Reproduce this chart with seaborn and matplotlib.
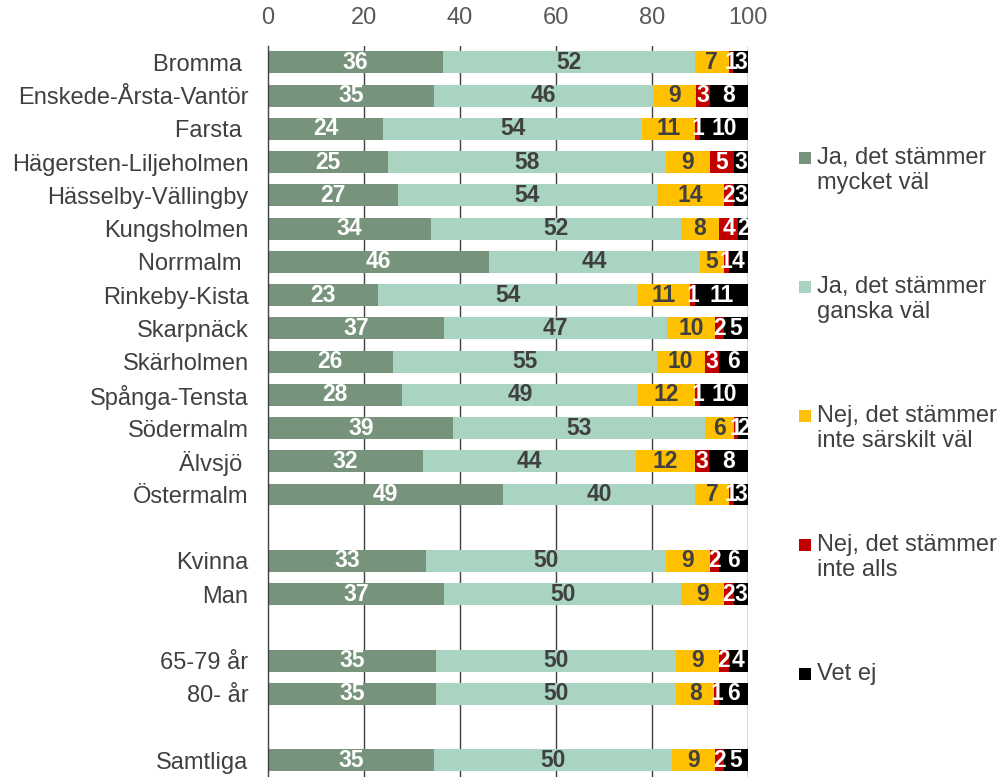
import numpy as np
import pandas as pd
import matplotlib
matplotlib.use("Agg")
import matplotlib.pyplot as plt
from matplotlib.patches import Rectangle
import seaborn as sns

# categories, grouped (a blank slot is left between groups)
areas = ["Bromma ", "Enskede-Årsta-Vantör", "Farsta ", "Hägersten-Liljeholmen",
         "Hässelby-Vällingby", "Kungsholmen", "Norrmalm ", "Rinkeby-Kista",
         "Skarpnäck", "Skärholmen", "Spånga-Tensta", "Södermalm", "Älvsjö ",
         "Östermalm"]
gender = ["Kvinna", "Man"]
age = ["65-79 år", "80- år"]
total = ["Samtliga"]

series = ["Ja, det stämmer\nmycket väl", "Ja, det stämmer\nganska väl",
          "Nej, det stämmer\ninte särskilt väl", "Nej, det stämmer\ninte alls",
          "Vet ej"]

mycket_val = [36, 35, 24, 25, 27, 34, 46, 23, 37, 26, 28, 39, 32, 49, 33, 37, 35, 35, 35]
ganska_val = [52, 46, 54, 58, 54, 52, 44, 54, 47, 55, 49, 53, 44, 40, 50, 50, 50, 50, 50]
inte_sarskilt = [7, 9, 11, 9, 14, 8, 5, 11, 10, 10, 12, 6, 12, 7, 9, 9, 9, 8, 9]
inte_alls = [1, 3, 1, 5, 2, 4, 1, 1, 2, 3, 1, 1, 3, 1, 2, 2, 2, 1, 2]
vet_ej = [3, 8, 10, 3, 3, 2, 4, 11, 5, 6, 10, 2, 8, 3, 6, 3, 4, 6, 5]

colors = ["#77937b", "#aad4c2", "#ffc000", "#c00000", "#000000"]
text_colors = ["white", "#404040", "#404040", "white", "white"]

# y positions with a blank slot between groups
labels, ypos = [], []
pos = 0
for group in [areas, gender, age, total]:
    for name in group:
        labels.append(name)
        ypos.append(pos)
        pos += 1
    pos += 1

vals = np.array([mycket_val, ganska_val, inte_sarskilt, inte_alls, vet_ej], dtype=float)
shares = vals / vals.sum(axis=0) * 100
cum = np.cumsum(shares, axis=0)

plt.rcParams["font.family"] = ["Liberation Sans", "DejaVu Sans"]
fig = plt.figure(figsize=(10.08, 7.77), dpi=100)
ax = fig.add_axes([0.2659, 0.0, 0.742 - 0.2659, 0.941])

for gx in [20, 40, 60, 80, 100]:
    ax.axvline(gx, color="#404040", lw=1.0, zorder=0)

# stacked bars: draw cumulative totals from the outermost segment inwards
for i in range(len(series) - 1, -1, -1):
    df = pd.DataFrame({"y": ypos, "x": cum[i]})
    sns.barplot(data=df, x="x", y="y", orient="y", native_scale=True,
                color=colors[i], width=0.66, saturation=1, ax=ax, zorder=2)

for i in range(len(series)):
    left = cum[i] - shares[i]
    for j, y in enumerate(ypos):
        ax.text(left[j] + shares[i][j] / 2, y, f"{int(vals[i][j])}",
                ha="center", va="center", fontsize=16.5, fontweight="bold",
                color=text_colors[i], zorder=3)

ax.set_xlim(0, 100)
ax.set_ylim(21.5, -0.5)
ax.set_yticks(ypos)
ax.set_yticklabels(labels, fontsize=17, color="#404040")
ax.xaxis.tick_top()
ax.set_xticks([0, 20, 40, 60, 80, 100])
ax.tick_params(axis="x", length=0, labelsize=17, labelcolor="#595959", pad=12)
ax.tick_params(axis="y", length=0, pad=14)
ax.set_xlabel("")
ax.set_ylabel("")
for side in ["top", "right", "bottom"]:
    ax.spines[side].set_visible(False)
ax.spines["left"].set_color("#404040")
ax.spines["left"].set_linewidth(1.0)

# legend: square aligned with the first text line, entries spaced evenly
W, H = 1008, 777
for k, (name, c) in enumerate(zip(series, colors)):
    y_px = 158 + k * 129
    fig.patches.append(Rectangle((799 / W, 1 - (y_px + 6) / H), 12 / W, 12 / H,
                                 transform=fig.transFigure, facecolor=c,
                                 edgecolor="none"))
    fig.text(817 / W, 1 - (y_px - 11) / H, name, ha="left", va="top",
             fontsize=17, color="#404040", linespacing=1.18)

fig.savefig("out.png", dpi=100)
